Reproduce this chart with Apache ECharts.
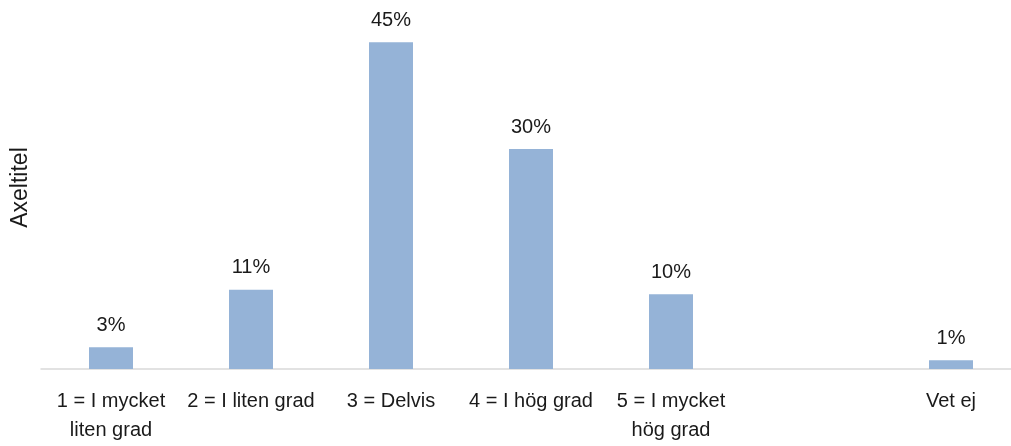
<!DOCTYPE html>
<html>
<head>
<meta charset="utf-8">
<script src="https://cdn.jsdelivr.net/npm/echarts@6/dist/echarts.min.js"></script>
<style>html,body{margin:0;padding:0;background:#fff;overflow:hidden;width:1011px;height:446px}#c{width:1021px;height:446px}</style>
</head>
<body>
<div id="c"></div>
<script>
const categories = ['1 = I mycket\nliten grad', '2 = I liten grad', '3 = Delvis', '4 = I hög grad', '5 = I mycket\nhög grad', '', 'Vet ej'];
const values = [3, 10.9, 45, 30.3, 10.3, null, 1.2];
const axisTitle = 'Axeltitel';

const chart = echarts.init(document.getElementById('c'), null, {renderer: 'canvas'});
const font = 'Liberation Sans, Arial, sans-serif';
chart.setOption({
  animation: false,
  textStyle: {fontFamily: font},
  grid: {left: 41, top: 6, right: 0, height: 363, containLabel: false},
  xAxis: {
    type: 'category',
    data: categories,
    axisLine: {lineStyle: {color: '#d9d9d9', width: 1.5}},
    axisTick: {show: false},
    axisLabel: {interval: 0, color: '#1a1a1a', fontSize: 20, fontFamily: font, lineHeight: 29, margin: 18}
  },
  yAxis: {
    type: 'value',
    min: 0, max: 50,
    name: axisTitle,
    nameLocation: 'middle',
    nameGap: 9,
    nameTextStyle: {color: '#1a1a1a', fontSize: 23, fontFamily: font},
    axisLine: {show: false},
    axisTick: {show: false},
    axisLabel: {show: false},
    splitLine: {show: false}
  },
  series: [{
    type: 'bar',
    data: values,
    barWidth: 44,
    itemStyle: {color: '#95B3D7'},
    label: {
      show: true,
      position: 'top',
      distance: 12,
      color: '#1a1a1a',
      fontSize: 20,
      fontFamily: font,
      formatter: p => p.value == null ? '' : Math.round(p.value) + '%'
    }
  }]
});
</script>
</body>
</html>
